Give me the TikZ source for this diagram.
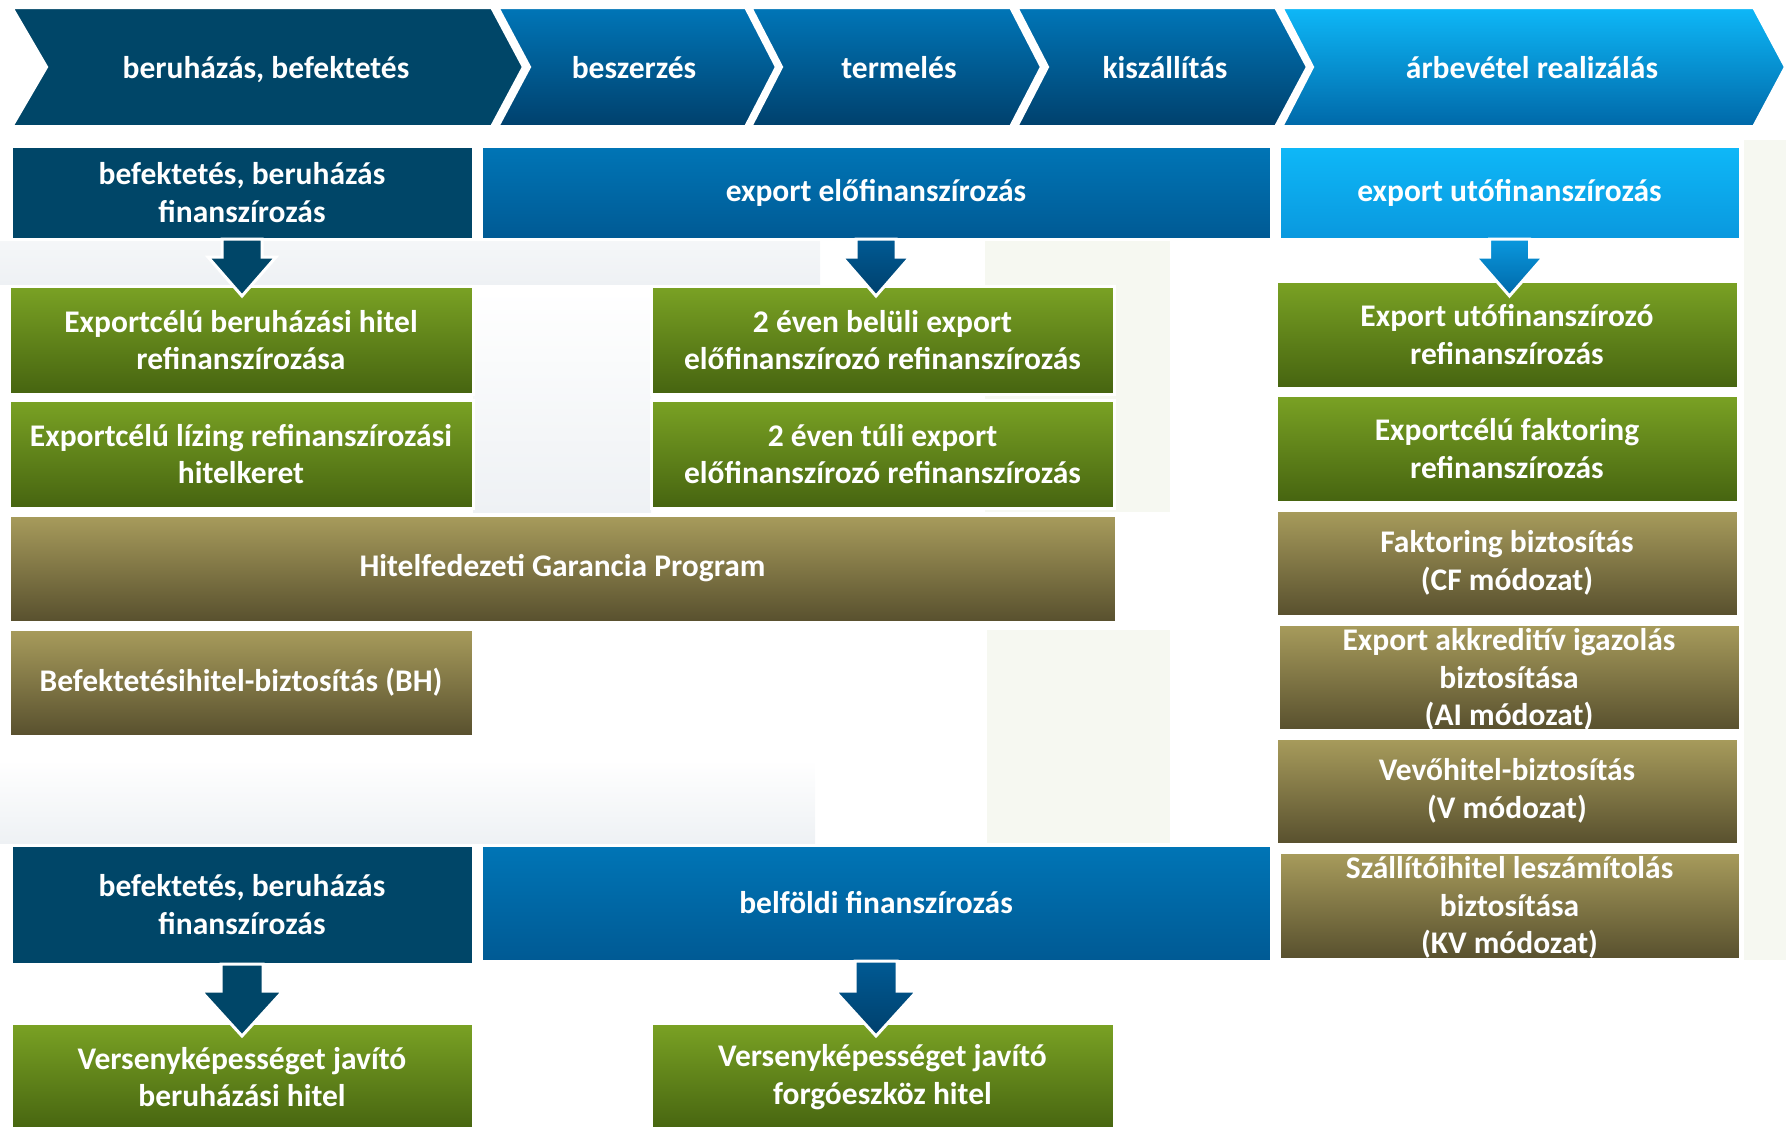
\documentclass[tikz,border=0pt]{standalone}
\usepackage{fontspec}
\setmainfont{Carlito}
\usetikzlibrary{calc}
\definecolor{navy}{RGB}{0,70,104}
\definecolor{chevBT}{RGB}{0,118,184}
\definecolor{chevBB}{RGB}{0,64,108}
\definecolor{boxBT}{RGB}{0,117,182}
\definecolor{boxBB}{RGB}{0,90,148}
\definecolor{lbT}{RGB}{14,184,248}
\definecolor{lbB}{RGB}{0,104,168}
\definecolor{lbBoxB}{RGB}{10,152,222}
\definecolor{grT}{RGB}{122,162,36}
\definecolor{grB}{RGB}{70,100,16}
\definecolor{olT}{RGB}{168,156,92}
\definecolor{olB}{RGB}{88,80,46}
\definecolor{bgGray}{RGB}{238,241,244}
\definecolor{bgGreen}{RGB}{246,248,241}
\tikzset{
  box/.style={draw=white, line width=3pt, inner sep=0pt, outer sep=0pt,
    anchor=north west, text=white, align=center,
    font=\bfseries\fontsize{31.5}{37.6}\selectfont},
  navybox/.style={box, fill=navy},
  bluebox/.style={box, top color=boxBT, bottom color=boxBB},
  lbluebox/.style={box, top color=lbT, bottom color=lbBoxB},
  greenbox/.style={box, top color=grT, bottom color=grB},
  olivebox/.style={box, top color=olT, bottom color=olB},
  chev/.style={draw=white, line width=4pt, line join=miter},
  chevtext/.style={text=white, inner sep=0pt, text height=23pt, text depth=7pt,
    font=\bfseries\fontsize{31.5}{37.6}\selectfont},
  arrnavy/.style={fill=navy, draw=white, line width=3pt, line join=miter},
  arrblue/.style={top color=boxBB, bottom color=chevBB, draw=white, line width=3pt, line join=miter},
  arrlblue/.style={top color=lbBoxB, bottom color=lbB, draw=white, line width=3pt, line join=miter}
}
% #1 style, #2 source node, #3 shaft half width, #4 head half width, #5 head start, #6 tip
\newcommand\flowarrow[6]{%
  \path[#1] ($(#2.south)+(-#3,0)$) -- ($(#2.south)+(-#3,-#5)$) -- ($(#2.south)+(-#4,-#5)$)
    -- ($(#2.south)+(0,-#6)$) -- ($(#2.south)+(#4,-#5)$) -- ($(#2.south)+(#3,-#5)$)
    -- ($(#2.south)+(#3,0)$) -- cycle;}
\begin{document}
\begin{tikzpicture}[x=1pt,y=1pt]
\useasboundingbox (0,0) rectangle (1786,-1127);
% faint background tints
\shade[top color=bgGray!60, bottom color=bgGray] (0,-241) rectangle (820,-284);
\shade[top color=white, bottom color=bgGray] (473,-290) rectangle (651,-512);
\fill[bgGreen] (985,-241) rectangle (1170,-512);
\shade[top color=white, bottom color=bgGray] (0,-760) rectangle (815,-843);
\fill[bgGreen] (987,-630) rectangle (1170,-843);
\fill[bgGreen] (1744,-140) rectangle (1786,-960);

% chevrons
\path[chev, fill=navy] (11,-7) -- (492,-7) -- (524,-67) -- (492,-127) -- (11,-127) -- (46,-67) -- cycle;
\path[chev, top color=chevBT, bottom color=chevBB] (497,-7) -- (746,-7) -- (777,-67) -- (746,-127) -- (497,-127) -- (529,-67) -- cycle;
\path[chev, top color=chevBT, bottom color=chevBB] (750,-7) -- (1011,-7) -- (1042,-67) -- (1011,-127) -- (750,-127) -- (781,-67) -- cycle;
\path[chev, top color=chevBT, bottom color=chevBB] (1016,-7) -- (1276,-7) -- (1308,-67) -- (1276,-127) -- (1016,-127) -- (1047,-67) -- cycle;
\path[chev, top color=lbT, bottom color=lbB] (1281,-7) -- (1754,-7) -- (1786,-67) -- (1754,-127) -- (1281,-127) -- (1312,-67) -- cycle;
\node[chevtext] (c1) at (266,-70) {beruházás, befektetés};
\node[chevtext] (c2) at (634,-70) {beszerzés};
\node[chevtext] (c3) at (899,-70) {termelés};
\node[chevtext] (c4) at (1165,-70) {kiszállítás};
\node[chevtext] (c5) at (1532,-70) {árbevétel realizálás};

% row 2
\node[navybox, minimum width=462pt, minimum height=93pt] (r2a) at (11,-146) {befektetés, beruházás\\finanszírozás};
\node[bluebox, minimum width=790pt, minimum height=93pt] (r2b) at (481,-146) {export előfinanszírozás};
\node[lbluebox, minimum width=461pt, minimum height=93pt] (r2c) at (1279,-146) {export utófinanszírozás};

% left / middle columns
\node[greenbox, minimum width=464pt, minimum height=108pt] (g1) at (9,-286) {Exportcélú beruházási hitel\\refinanszírozása};
\node[greenbox, minimum width=464pt, minimum height=108pt] (g2) at (9,-400) {Exportcélú lízing refinanszírozási\\hitelkeret};
\node[greenbox, minimum width=463pt, minimum height=108pt] (g3) at (651,-286) {2 éven belüli export\\előfinanszírozó refinanszírozás};
\node[greenbox, minimum width=463pt, minimum height=108pt] (g4) at (651,-400) {2 éven túli export\\előfinanszírozó refinanszírozás};
\node[olivebox, minimum width=1107pt, minimum height=107pt] (hgp) at (9,-515) {Hitelfedezeti Garancia Program};
\node[olivebox, minimum width=464pt, minimum height=107pt] (bh) at (9,-629) {Befektetésihitel-biztosítás (BH)};

% right column
\node[greenbox, minimum width=462pt, minimum height=107pt] (g5) at (1276,-281) {Export utófinanszírozó\\refinanszírozás};
\node[greenbox, minimum width=462pt, minimum height=107pt] (g6) at (1276,-395) {Exportcélú faktoring\\refinanszírozás};
\node[olivebox, minimum width=462pt, minimum height=106pt] (o1) at (1276,-510) {Faktoring biztosítás\\(CF módozat)};
\node[olivebox, minimum width=462pt, minimum height=106pt] (o2) at (1278,-624) {\rule{0pt}{26.5pt}Export akkreditív igazolás\\biztosítása\\(AI módozat)};
\node[olivebox, minimum width=462pt, minimum height=106pt] (o3) at (1276,-738) {Vevőhitel-biztosítás\\(V módozat)};
\node[olivebox, minimum width=461pt, minimum height=107pt] (o4) at (1279,-852) {\rule{0pt}{26.5pt}Szállítóihitel leszámítolás\\biztosítása\\(KV módozat)};

% bottom
\node[navybox, minimum width=462pt, minimum height=119pt] (b1) at (11,-845) {befektetés, beruházás\\finanszírozás};
\node[bluebox, minimum width=790pt, minimum height=116pt] (b2) at (481,-845) {belföldi finanszírozás};
\node[greenbox, minimum width=462pt, minimum height=108pt] (g7) at (11,-1023) {Versenyképességet javító\\beruházási hitel};
\node[greenbox, minimum width=463pt, minimum height=108pt] (g8) at (651,-1023) {Versenyképességet javító\\forgóeszköz hitel};

% arrows
\flowarrow{arrnavy}{r2a}{20}{34}{18}{57}
\flowarrow{arrblue}{r2b}{20}{34}{18}{57}
\flowarrow{arrlblue}{r2c}{20}{34}{18}{57}
\flowarrow{arrnavy}{b1}{21}{41}{27}{72}
\flowarrow{arrblue}{b2}{21}{41}{30}{75}
\end{tikzpicture}
\end{document}
